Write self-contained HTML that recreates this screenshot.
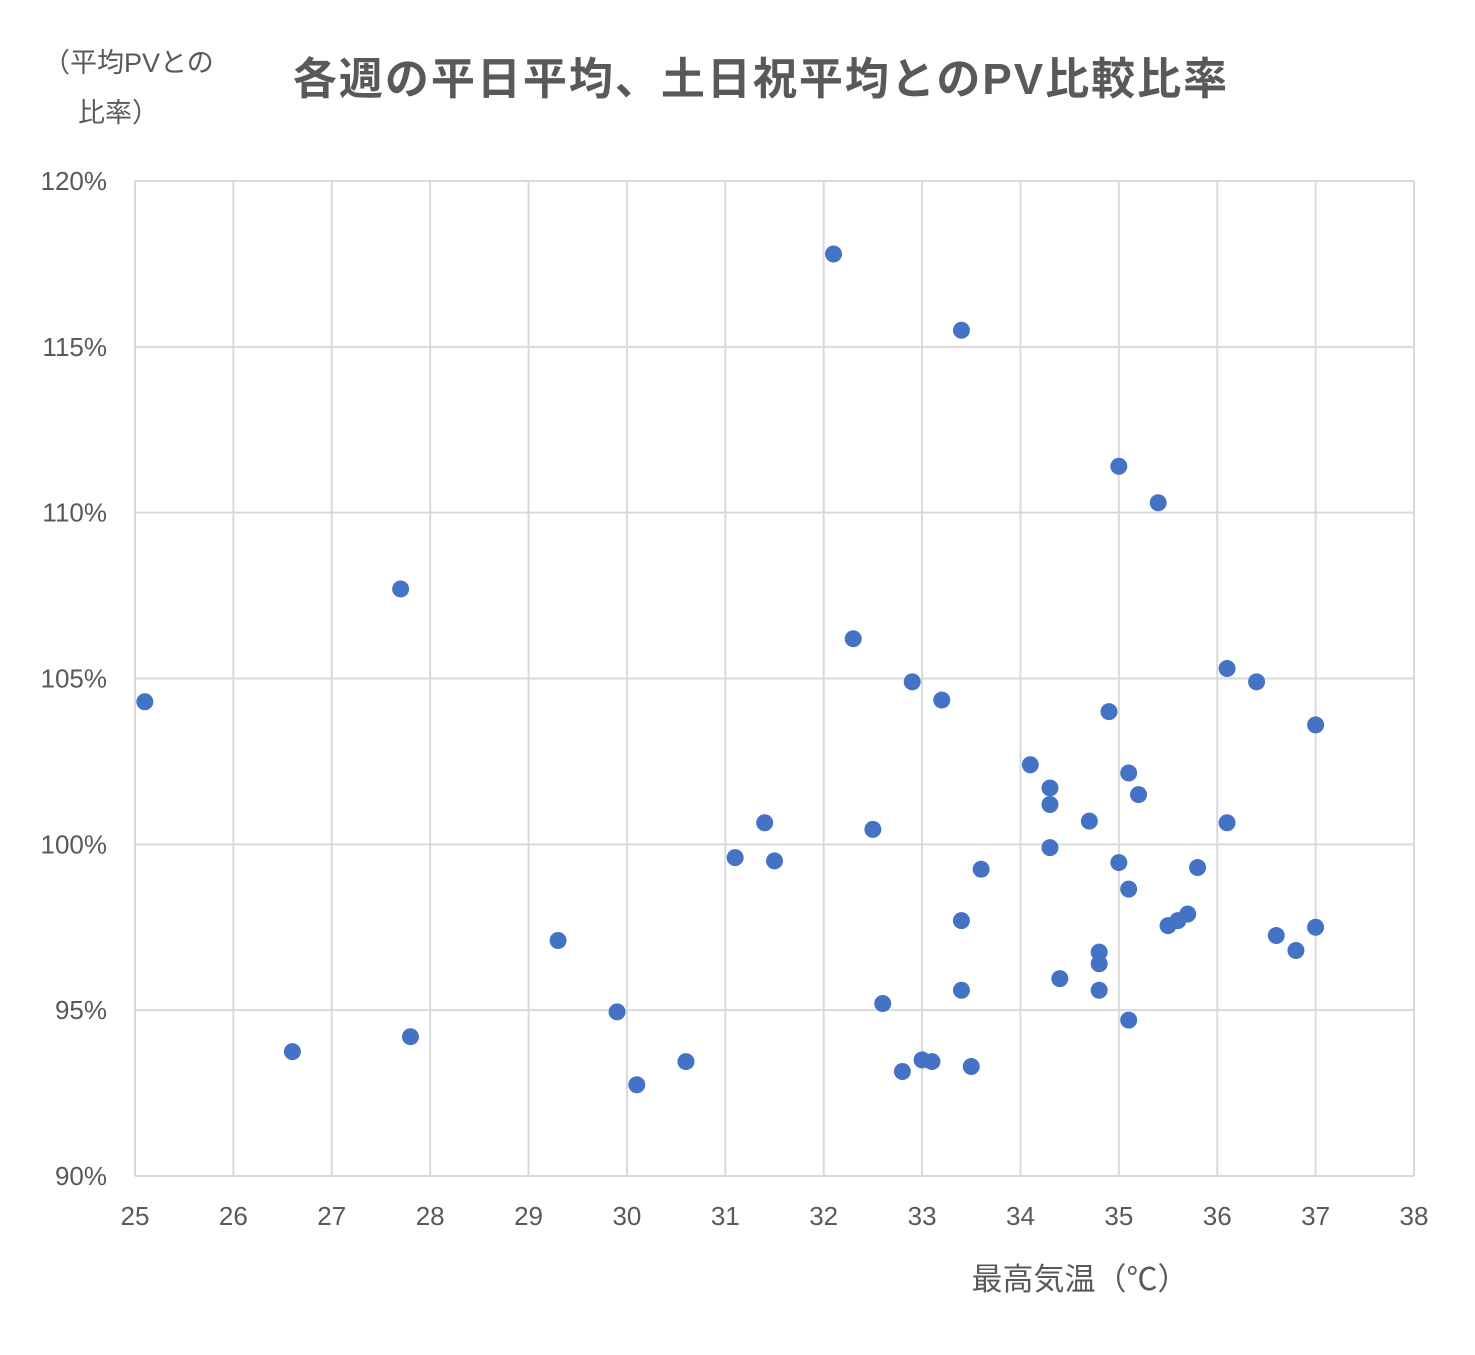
<!DOCTYPE html>
<html><head><meta charset="utf-8"><style>
body{margin:0;background:#fff;}
svg text{font-family:"Liberation Sans","Noto Sans CJK JP",sans-serif;}
</style></head><body>
<svg id="chart" width="1475" height="1350" xmlns="http://www.w3.org/2000/svg">
<rect width="1475" height="1350" fill="#fff"/>
<text x="761" y="94" text-anchor="middle" font-size="44" letter-spacing="2" font-weight="bold" fill="#595959">各週の平日平均、土日祝平均とのPV比較比率</text>
<text x="43" y="72" font-size="27" fill="#595959">（平均PVとの</text>
<text x="78" y="122" font-size="27" fill="#595959">比率）</text>
<text x="1080" y="1290" text-anchor="middle" font-size="31" fill="#595959">最高気温（℃）</text>
<g id="grid"></g><g id="ticks"></g><g id="pts"></g>
</svg>
<script>
const xTicks=[25,26,27,28,29,30,31,32,33,34,35,36,37,38];
const yTicks=[90,95,100,105,110,115,120];
const temps=[32.1,33.4,35.0,35.4,27.7,32.3,36.1,32.9,36.4,25.1,33.2,34.9,37.0,34.1,35.1,34.3,35.2,34.3,34.7,31.4,36.1,32.5,34.3,31.1,31.5,35.0,33.6,35.8,35.1,35.7,33.4,35.6,35.5,37.0,36.6,29.3,34.8,36.8,34.8,34.4,33.4,34.8,32.6,29.9,35.1,27.8,26.6,33.0,30.6,33.1,33.5,32.8,30.1];
const ratios=[117.8,115.5,111.4,110.3,107.7,106.2,105.3,104.9,104.9,104.3,104.35,104.0,103.6,102.4,102.15,101.7,101.5,101.2,100.7,100.65,100.65,100.45,99.9,99.6,99.5,99.45,99.25,99.3,98.65,97.9,97.7,97.7,97.55,97.5,97.25,97.1,96.75,96.8,96.4,95.95,95.6,95.6,95.2,94.95,94.7,94.2,93.75,93.5,93.45,93.45,93.3,93.15,92.75];
const X0=135,X1=1414,Y0=1176,Y1=181;
const sx=v=>X0+(v-25)/(38-25)*(X1-X0);
const sy=v=>Y0-(v-90)/(120-90)*(Y0-Y1);
const NS="http://www.w3.org/2000/svg";
const grid=document.getElementById('grid'),ticks=document.getElementById('ticks'),pts=document.getElementById('pts');
function mk(tag,a,parent){const e=document.createElementNS(NS,tag);for(const k in a)e.setAttribute(k,a[k]);parent.appendChild(e);return e;}
xTicks.forEach(t=>{
 const l=mk('line',{x1:sx(t),x2:sx(t),y1:Y1,y2:Y0,stroke:'#d9d9d9','stroke-width':2},grid);
 
 
 const tx=mk('text',{x:sx(t),y:Y0+49,'text-anchor':'middle','font-size':26,fill:'#595959'},ticks);
 tx.textContent=t;
 
 
});
yTicks.forEach(t=>{
 const l=mk('line',{x1:X0,x2:X1,y1:sy(t),y2:sy(t),stroke:'#d9d9d9','stroke-width':2},grid);
 
 
 const tx=mk('text',{x:107,y:sy(t)+9,'text-anchor':'end','font-size':26,fill:'#595959'},ticks);
 tx.textContent=t+'%';
 
 
});
temps.forEach((t,i)=>{
 const c=mk('circle',{cx:sx(t),cy:sy(ratios[i]),r:8.5,fill:'#4472C4'},pts);
 
 
});
</script>
</body></html>
